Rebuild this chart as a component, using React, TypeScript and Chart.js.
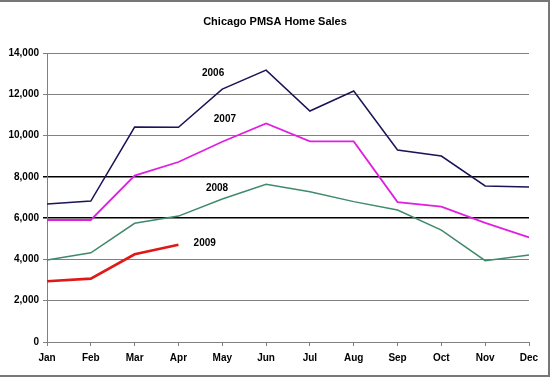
import React, { useEffect, useRef } from "react";
import { Chart, registerables } from "chart.js";

Chart.register(...registerables);

const months = ["Jan", "Feb", "Mar", "Apr", "May", "Jun", "Jul", "Aug", "Sep", "Oct", "Nov", "Dec"];
const sales2006 = [6690, 6830, 10410, 10400, 12250, 13170, 11190, 12160, 9300, 9010, 7560, 7510];
const sales2007 = [5910, 5910, 8060, 8720, 9700, 10590, 9720, 9720, 6780, 6560, 5770, 5070];
const sales2008 = [3970, 4320, 5750, 6100, 6930, 7640, 7280, 6800, 6390, 5420, 3940, 4210];
const sales2009 = [2940, 3070, 4250, 4710];
const seriesNames = ["2006", "2007", "2008", "2009"];
// label anchor positions in data space: [category index, value]
const labelX = [3.79, 4.06, 3.88, 3.6];
const labelY = [13030, 10800, 7460, 4800];
const yTicks = [0, 2000, 4000, 6000, 8000, 10000, 12000, 14000];
const title = "Chicago PMSA Home Sales";

const FONT = "'Liberation Sans', Arial, sans-serif";

export default function App() {
  const ref = useRef<HTMLCanvasElement | null>(null);
  useEffect(() => {
    document.body.style.margin = "0";
    const decor = {
      id: "decor",
      afterDraw(chart: any) {
        const ctx = chart.ctx;
        const xs = chart.scales.x;
        const ys = chart.scales.y;
        ctx.save();
        ctx.fillStyle = "#000";
        ctx.font = `bold 11px ${FONT}`;
        ctx.textAlign = "center";
        ctx.textBaseline = "middle";
        ctx.fillText(title, 275, 22);
        ctx.font = `bold 10px ${FONT}`;
        for (let i = 0; i < seriesNames.length; i++) {
          const px = xs.left + (xs.right - xs.left) * (labelX[i] / (months.length - 1));
          const py = ys.getPixelForValue(labelY[i]);
          ctx.fillText(seriesNames[i], px, py);
        }
        ctx.strokeStyle = "#777";
        ctx.lineWidth = 2;
        ctx.beginPath();
        ctx.moveTo(0, 1);
        ctx.lineTo(549, 1);
        ctx.lineTo(549, 376);
        ctx.lineTo(0, 376);
        ctx.stroke();
        ctx.restore();
      },
    };
    const chart = new Chart(ref.current!, {
      type: "line",
      data: {
        labels: months,
        datasets: [
          { label: "2006", data: sales2006, borderColor: "#1a1458", borderWidth: 1.5, pointRadius: 0, tension: 0 },
          { label: "2007", data: sales2007, borderColor: "#e020e0", borderWidth: 1.8, pointRadius: 0, tension: 0 },
          { label: "2008", data: sales2008, borderColor: "#3f8a6a", borderWidth: 1.5, pointRadius: 0, tension: 0 },
          { label: "2009", data: sales2009, borderColor: "#e01818", borderWidth: 2.6, pointRadius: 0, tension: 0 },
        ],
      },
      options: {
        animation: false,
        responsive: false,
        events: [],
        layout: { padding: { left: 4, right: 21, top: 53, bottom: 4 } },
        plugins: { legend: { display: false }, title: { display: false }, tooltip: { enabled: false } },
        scales: {
          x: {
            offset: false,
            grid: { drawOnChartArea: false, drawTicks: true, tickLength: 4, color: "#808080" },
            border: { display: true, color: "#808080", width: 1 },
            ticks: { color: "#000", font: { family: FONT, size: 10, weight: "bold" }, padding: 6, maxRotation: 0, autoSkip: false },
            afterFit: (s: any) => { s.height = 31; },
          },
          y: {
            min: 0,
            max: 14000,
            afterBuildTicks: (s: any) => { s.ticks = yTicks.map((v) => ({ value: v })); },
            grid: {
              color: (c: any) => (c.tick && (c.tick.value === 6000 || c.tick.value === 8000) ? "#000" : "#808080"),
              lineWidth: (c: any) => (c.tick && (c.tick.value === 6000 || c.tick.value === 8000) ? 1.5 : 1),
              tickLength: 4,
              drawTicks: true,
            },
            border: { display: true, color: "#808080", width: 1 },
            ticks: {
              color: "#000",
              font: { family: FONT, size: 10, weight: "bold" },
              padding: 4,
              callback: (v: any) => Number(v).toLocaleString("en-US"),
            },
            afterFit: (s: any) => { s.width = 43; },
          },
        },
      },
      plugins: [decor],
    });
    return () => chart.destroy();
  }, []);
  return (
    <div style={{ position: "absolute", left: 0, top: 0, width: 550, height: 377, background: "#fff" }}>
      <canvas ref={ref} width={550} height={377} style={{ display: "block" }} />
    </div>
  );
}
